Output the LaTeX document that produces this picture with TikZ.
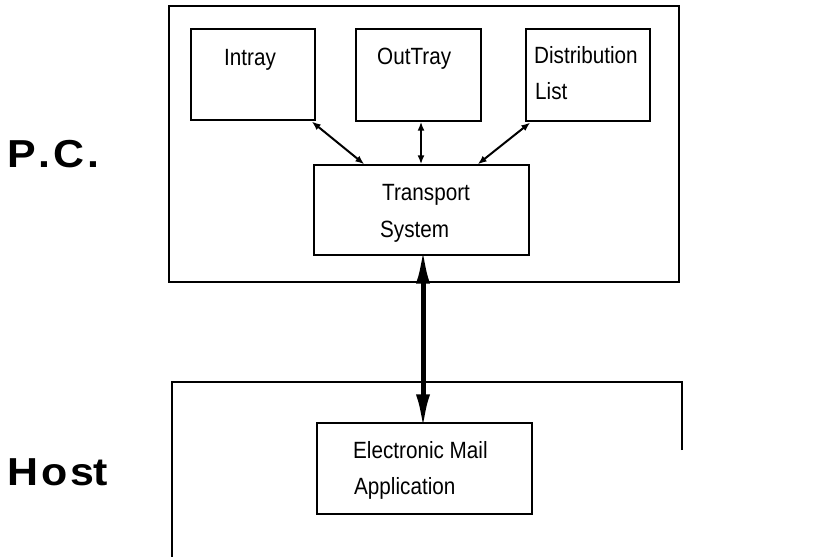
\documentclass[tikz,border=0pt]{standalone}
\usepackage{fontspec}
\usetikzlibrary{arrows.meta}
\newfontfamily\boxfont[FakeStretch=0.88]{Liberation Sans}
\newfontfamily\sidefont[FakeStretch=1.1,LetterSpace=8]{Liberation Sans Bold}
\begin{document}
\begin{tikzpicture}[x=1pt,y=-1pt,
  frame/.style={draw=black,line width=1.3pt},
  unit/.style={draw=black,line width=1.4pt,rectangle,inner sep=0pt},
  txt/.style={anchor=base west,inner sep=0pt,font=\boxfont\fontsize{23.5}{28}\selectfont},
  side/.style={anchor=base west,inner sep=0pt,font=\sidefont\fontsize{39}{44}\selectfont},
  link/.style={line width=2pt,{Latex[length=9pt,width=7pt]}-{Latex[length=9pt,width=7pt]}},
  trunk/.style={line width=5pt,{Latex[length=36pt,width=14pt]}-{Latex[length=36pt,width=14pt]}}]
  \useasboundingbox (0,0) rectangle (813,557);

  % P.C. side frame
  \draw[frame] (169,6) rectangle (679,282);
  % Host side frame, open at the bottom
  \coordinate (hostR) at (682,450);
  \coordinate (hostTR) at (682,382);
  \coordinate (hostTL) at (172,382);
  \coordinate (hostBL) at (172,557);
  \draw[frame] (hostR) -- (hostTR) -- (hostTL) -- (hostBL);

  % components
  \node[unit,minimum width=124pt,minimum height=91pt] (in)   at (253,74.5) {};
  \node[unit,minimum width=125pt,minimum height=92pt] (out)  at (418.5,75) {};
  \node[unit,minimum width=124pt,minimum height=92pt] (dist) at (588,75) {};
  \node[unit,minimum width=215pt,minimum height=90pt] (ts)   at (421.5,210) {};
  \node[unit,minimum width=215pt,minimum height=91pt] (ema)  at (424.5,468.5) {};

  \node[txt] (tIn)   at (224,65) {Intray};
  \node[txt] (tOut)  at (377,64) {OutTray};
  \node[txt] (tDis1) at (534,63) {Distribution};
  \node[txt] (tDis2) at (535,99) {List};
  \node[txt] (tTs1)  at (382,200) {Transport};
  \node[txt] (tTs2)  at (380,237) {System};
  \node[txt] (tEm1)  at (353,458) {Electronic Mail};
  \node[txt] (tEm2)  at (354,494) {Application};

  \node[side] (pc)   at (7,167) {P\kern3pt.\kern3pt C\kern3pt.};
  \node[side] (host) at (7,485) {Hos\kern-1ptt};

  % connections
  \coordinate (a1) at ([xshift=-4pt,yshift=-0.8pt]in.south east);
  \coordinate (a2) at ([xshift=51pt]ts.north west);
  \draw[link] (a1) -- (a2);
  \draw[link] ([xshift=2.5pt]out.south) -- ([xshift=-0.5pt]ts.north);
  \coordinate (d1) at ([xshift=5pt,yshift=-0.8pt]dist.south west);
  \coordinate (d2) at ([xshift=-52pt]ts.north east);
  \draw[link] (d1) -- (d2);
  \draw[trunk] ([xshift=1.5pt,yshift=8pt]ts.south) -- ([xshift=-1.5pt,yshift=-8pt]ema.north);
\end{tikzpicture}
\end{document}
